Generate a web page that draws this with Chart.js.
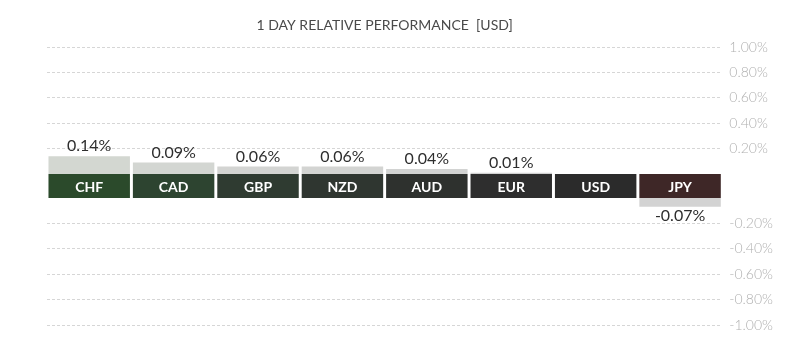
<!DOCTYPE html>
<html>
<head>
<meta charset="utf-8">
<script src="https://cdn.jsdelivr.net/npm/chart.js@4"></script>
<style>
  html, body { margin: 0; padding: 0; background: #fff; }
  #wrap { width: 800px; height: 349px; }
</style>
</head>
<body>
<div id="wrap"><canvas id="perfChart"></canvas></div>
<script>
// 1 day change vs USD, in percent
const currencies = ['CHF', 'CAD', 'GBP', 'NZD', 'AUD', 'EUR', 'USD', 'JPY'];
const changes = [0.14, 0.09, 0.06, 0.06, 0.04, 0.01, 0.00, -0.07];
const tickLabels = [1.0, 0.8, 0.6, 0.4, 0.2, -0.2, -0.4, -0.6, -0.8, -1.0];
const chartTitle = '1 DAY RELATIVE PERFORMANCE  [USD]';

const bandColors = ['#2b4a2b', '#2d4430', '#2f3b31', '#2f3630', '#2e312e', '#2e2e2e', '#2b2b2b', '#3e2727'];
const barColors = ['#d3d7d1', '#d3d6d2', '#d3d4d2', '#d3d4d2', '#d2d3d2', '#d2d2d2', '#d2d2d2', '#d3d3d3'];

// half height of the currency band, in axis units (the band pushes bars apart from zero)
const HALF = 0.094;
const shift = v => v > 0 ? v + HALF : v < 0 ? v - HALF : 0;

// title centred over the plot area, names in the band and % values next to the bars
const labelPlugin = {
    id: 'labels',
    afterDatasetsDraw(chart) {
        const ctx = chart.ctx;
        const area = chart.chartArea;
        const band = chart.getDatasetMeta(0).data;
        const bars = chart.getDatasetMeta(1).data;
        ctx.save();
        ctx.textAlign = 'center';
        ctx.textBaseline = 'middle';

        ctx.fillStyle = '#4a4a4a';
        ctx.font = '14px Lato';
        ctx.fillText(chartTitle, (area.left + area.right) / 2, 25);

        band.forEach((el, i) => {
            ctx.fillStyle = '#ffffff';
            ctx.font = 'bold 14px Lato';
            ctx.fillText(currencies[i], el.x, (el.y + el.base) / 2 + 1);
            const v = changes[i];
            if (v === 0) return;
            const b = bars[i];
            ctx.fillStyle = '#2e2e2e';
            ctx.font = '16px Lato';
            const txt = v.toFixed(2) + '%';
            if (v > 0) ctx.fillText(txt, b.x, b.y - 10);
            else ctx.fillText(txt, b.x, b.y + 9);
        });
        ctx.restore();
    }
};

const ctx = document.getElementById('perfChart').getContext('2d');
new Chart(ctx, {
    type: 'bar',
    data: {
        labels: currencies,
        datasets: [
            {
                label: 'band',
                data: currencies.map(() => [-HALF, HALF]),
                backgroundColor: bandColors,
                grouped: false,
                barPercentage: 0.965,
                categoryPercentage: 1,
                order: 1
            },
            {
                label: 'change',
                data: changes.map(v => v >= 0 ? [HALF, HALF + v] : [-HALF, -HALF + v]),
                backgroundColor: barColors,
                grouped: false,
                barPercentage: 0.965,
                categoryPercentage: 1,
                order: 2
            }
        ]
    },
    options: {
        responsive: true,
        maintainAspectRatio: false,
        animation: false,
        layout: { padding: { left: 47, right: 20, top: 47, bottom: 24 } },
        plugins: {
            legend: { display: false },
            tooltip: { enabled: false },
            title: { display: false }
        },
        scales: {
            x: { display: false },
            y: {
                position: 'right',
                min: -1 - HALF,
                max: 1 + HALF,
                afterBuildTicks: axis => {
                    axis.ticks = tickLabels.map(v => ({ value: shift(v) }));
                },
                ticks: {
                    padding: 7,
                    color: '#b0b0b0',
                    font: { family: 'Lato', size: 14, weight: '300' },
                    callback: value => {
                        const v = value > 0 ? value - HALF : value + HALF;
                        return v.toFixed(2) + '%';
                    }
                },
                grid: {
                    color: '#d6d6d6',
                    drawTicks: false
                },
                border: { display: false, dash: [3, 2] }
            }
        }
    },
    plugins: [labelPlugin]
});
</script>
</body>
</html>
